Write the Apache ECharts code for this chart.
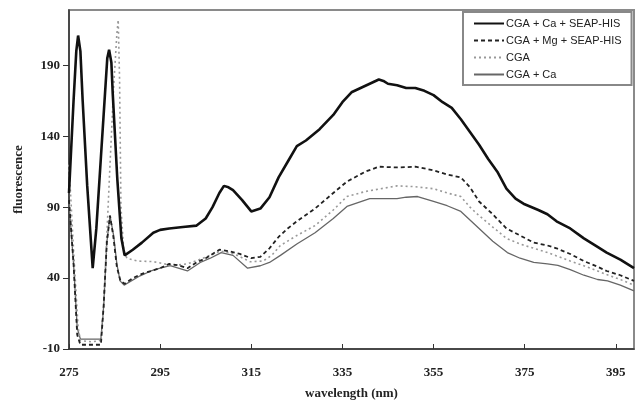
<!DOCTYPE html>
<html>
<head>
<meta charset="utf-8">
<script src="https://cdn.jsdelivr.net/npm/echarts@6/dist/echarts.min.js"></script>
<style>
html,body{margin:0;padding:0;background:#fff;}
#chart{width:636px;height:405px;}
</style>
</head>
<body>
<div id="chart"></div>
<script>
// Series names
var seriesNames = ['CGA + Ca + SEAP-HIS', 'CGA + Mg + SEAP-HIS', 'CGA', 'CGA + Ca'];

// CGA + Ca + SEAP-HIS
var wlCaSeap = [275, 276, 276.6, 277, 277.5, 278, 279, 280.2, 281, 282, 283, 283.4, 283.8, 284.3, 284.6, 285.6, 286.5, 287.2, 289, 291, 293.5, 295, 297, 300, 303, 305, 306.5, 308, 309, 310, 311, 313, 315, 317, 319, 321, 323, 325, 327, 330, 333, 335, 337, 339, 341, 343, 344, 345, 347, 349, 351, 353, 355, 357, 359, 361, 363, 365, 367, 369, 371, 373, 375, 378, 380, 382, 385, 388, 391, 393, 396, 399];
var valCaSeap = [100, 165, 200, 211, 200, 165, 105, 47, 75, 125, 175, 195, 201, 192, 170, 110, 68, 56, 60, 65, 72, 74, 75, 76, 77, 82, 90, 100, 105, 104, 102, 95, 87, 89, 97, 111, 122, 133, 137, 145, 155, 164, 171, 174, 177, 180, 179, 177, 176, 174, 174, 172, 169, 164, 160, 152, 143, 134, 124, 115, 103, 96, 92, 88, 85, 80, 75, 68, 62, 58, 53, 47];

// CGA + Mg + SEAP-HIS
var wlMgSeap = [275, 276, 276.8, 277.5, 280, 282, 282.6, 283.3, 284, 284.7, 285.5, 286.3, 287.2, 289, 291, 293, 295, 297, 299, 301, 303, 305, 308, 310, 312.5, 315, 317, 319, 321, 323, 325, 329, 333, 336, 340, 343, 347, 351, 355, 358, 361, 363, 365, 368, 371, 374, 377, 380, 382, 385, 388, 391, 393, 396, 399];
var valMgSeap = [95, 50, 0, -7, -7, -7, 20, 65, 84, 70, 48, 38, 36, 40, 43, 45, 47, 50, 49, 47, 51, 54, 60, 59, 57, 54, 55, 61, 69, 75, 80, 89, 100, 108, 115, 118.5, 118, 118.5, 116, 113, 111, 104, 94, 85, 75, 70, 65, 63, 61, 57, 52, 48, 45, 42, 38];

// CGA
var wlCga = [275, 276, 277, 277.5, 280, 282, 282.6, 283.3, 284, 284.8, 285.5, 285.8, 286.1, 286.4, 287, 287.7, 290, 293.5, 296, 298.2, 301, 304.4, 308.2, 310, 311.9, 314.8, 317.6, 319.5, 321.4, 325, 329, 333, 336, 340, 343.4, 347, 350.6, 355, 358, 361, 363, 365, 368, 371, 374, 377, 380, 382, 385, 388, 391, 393, 396, 399];
var valCga = [120, 60, 5, -4, -5, -4, 20, 70, 120, 175, 212, 222, 180, 90, 60, 54, 52, 51.6, 50, 49, 50, 54, 59, 58, 56, 51.5, 52, 56, 63, 70, 77, 88, 97.5, 101, 103, 105, 104.5, 103, 100, 97.5, 90, 84, 76, 68, 64, 61, 58, 55.6, 52, 48.7, 45, 42.5, 39, 35];

// CGA + Ca
var wlCgaCa = [275, 276, 276.8, 277.5, 280, 282, 282.6, 283.3, 284, 284.8, 285.5, 286.2, 287.1, 290.6, 293, 295, 297.2, 299, 301, 303.8, 306, 308.4, 311, 314.2, 317, 319, 321.4, 325, 329, 333, 336, 341, 344, 347, 349, 351.5, 355, 358, 361, 363, 365, 368, 371.2, 374, 377, 380, 382.3, 385, 388, 391, 393.2, 396, 399];
var valCgaCa = [93, 50, 5, -3, -3, -3, 20, 65, 84, 70, 50, 38, 35, 41.6, 45, 47, 48.7, 47, 45, 51, 54, 58, 56, 47, 48.7, 51, 56, 64, 72, 82, 90.5, 96, 96, 96, 97, 97.5, 94, 91, 87, 81, 75, 66, 58, 54, 51, 50, 49, 46, 42, 39, 38, 35, 31];

// Axis ticks
var xMin = 275, xMax = 399, xStep = 20;
var yMin = -10, yMax = 229, yStep = 50;

function zip(a, b) { return a.map(function (v, i) { return [v, b[i]]; }); }

var chart = echarts.init(document.getElementById('chart'), null, {renderer: 'canvas'});
var serifBold = {fontFamily: 'Liberation Serif', fontWeight: 'bold', fontSize: 13, color: '#222'};

chart.setOption({
  animation: false,
  backgroundColor: '#fff',
  grid: {left: 69, right: 2, top: 10, bottom: 53, show: true, borderColor: '#8a8a8a', borderWidth: 2, backgroundColor: 'transparent'},
  legend: {
    orient: 'vertical', left: 463, top: 12,
    backgroundColor: '#fff', borderColor: '#888', borderWidth: 2,
    padding: [6, 10, 5, 10], itemWidth: 30, itemHeight: 12, itemGap: 6,
    itemStyle: {opacity: 0},
    textStyle: {fontFamily: 'Liberation Sans', fontSize: 11, color: '#222', padding: [0, 0, 0, -3]},
    data: seriesNames
  },
  xAxis: {
    type: 'value', min: xMin, max: xMax, interval: xStep,
    name: 'wavelength (nm)', nameLocation: 'middle', nameGap: 38,
    nameTextStyle: serifBold,
    axisLine: {onZero: false, lineStyle: {color: '#333', width: 1.5}},
    axisTick: {inside: true, length: 5, lineStyle: {color: '#333'}},
    axisLabel: Object.assign({margin: 17, showMaxLabel: false}, serifBold),
    splitLine: {show: false}
  },
  yAxis: {
    type: 'value', min: yMin, max: yMax, interval: yStep,
    name: 'fluorescence', nameLocation: 'middle', nameGap: 44, nameRotate: 90,
    nameTextStyle: serifBold,
    axisLine: {show: true, onZero: false, lineStyle: {color: '#333', width: 1.5}},
    axisTick: {show: true, inside: false, length: 6, lineStyle: {color: '#333'}},
    axisLabel: Object.assign({margin: 9, showMaxLabel: false}, serifBold),
    splitLine: {show: false}
  },
  series: [
    {name: seriesNames[0], type: 'line', showSymbol: false, symbol: 'none', data: zip(wlCaSeap, valCaSeap),
     lineStyle: {color: '#111', width: 2.6}, itemStyle: {color: '#111'}, z: 5},
    {name: seriesNames[1], type: 'line', showSymbol: false, symbol: 'none', data: zip(wlMgSeap, valMgSeap),
     lineStyle: {color: '#222', width: 1.8, type: [4, 3]}, itemStyle: {color: '#222'}, z: 4},
    {name: seriesNames[2], type: 'line', showSymbol: false, symbol: 'none', data: zip(wlCga, valCga),
     lineStyle: {color: '#999', width: 1.6, type: [2, 3]}, itemStyle: {color: '#999'}, z: 3},
    {name: seriesNames[3], type: 'line', showSymbol: false, symbol: 'none', data: zip(wlCgaCa, valCgaCa),
     lineStyle: {color: '#666', width: 1.3}, itemStyle: {color: '#666'}, z: 2}
  ]
});
</script>
</body>
</html>
